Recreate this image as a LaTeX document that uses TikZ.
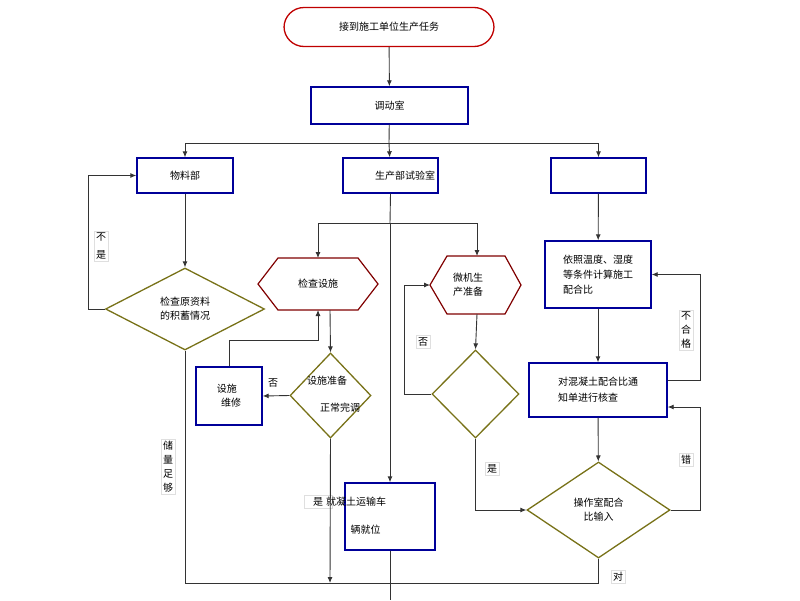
\documentclass[tikz,border=0pt]{standalone}
\usepackage{fontspec}
\setmainfont{Noto Sans CJK SC}
\usetikzlibrary{shapes.geometric,arrows.meta}
\begin{document}
\begin{tikzpicture}[x=1pt,y=-1pt,
 box/.style={draw=blue!60!black,line width=1.4pt,fill=white,font=\fontsize{10}{14}\selectfont,align=left,inner sep=3pt},
 dia/.style={diamond,draw=olive!80!black,line width=1.3pt,aspect=1,inner sep=0pt,font=\fontsize{10}{14}\selectfont,align=center},
 hexl/.style={draw=red!50!black,line width=1.2pt},
 txt/.style={font=\fontsize{10}{14}\selectfont,align=left},
 lbl/.style={draw=gray!25,fill=white,font=\fontsize{10}{14}\selectfont,align=center,inner sep=2pt},
 ar/.style={-{Latex[length=6pt,width=5pt]},line width=0.9pt,black!80},
 ln/.style={line width=0.9pt,black!80}]
\useasboundingbox (0,0) rectangle (800,600);
% nodes
\node[draw=red!75!black,line width=1.3pt,rounded corners=20pt,minimum width=210pt,minimum height=39pt,font=\fontsize{10}{14}\selectfont] (start) at (389,27) {接到施工单位生产任务};
\node[box,minimum width=157pt,minimum height=37pt,align=center] (ddd) at (389.5,105.5) {调动室};
\node[box,minimum width=96pt,minimum height=35pt,align=center] (wl) at (185,175.5) {物料部};
\node[box,minimum width=95pt,minimum height=35pt,text width=89pt,align=right] (sc) at (390.5,175.5) {生产部试验室};
\node[box,minimum width=95pt,minimum height=35pt] (rb) at (598.5,175.5) {};
\node[dia,minimum width=159pt,minimum height=82pt] (jc) at (185,309) {检查原资料\\的积蓄情况};
\draw[hexl] (258,284) -- (278,258) -- (358,258) -- (378,284) -- (358,310) -- (278,310) -- cycle;
\node[txt] (hx1) at (318,284) {检查设施};
\coordinate (hx1b) at (318,310);
\coordinate (hx1bb) at (330,310);
\coordinate (hx1t) at (318,258);
\draw[hexl] (430,285) -- (447,256) -- (505,256) -- (521,285) -- (505,314) -- (447,314) -- cycle;
\node[txt] (hx2) at (468,285) {微机生\\产准备};
\coordinate (hx2t) at (477,256);
\coordinate (hx2b) at (477,314);
\coordinate (hx2l) at (430,285);
\node[dia,minimum width=81pt,minimum height=85pt] (d2) at (330.5,395.5) {};
\node[txt] (d2a) at (327,381) {设施准备};
\node[txt] (d2b) at (340,408) {正常完调};
\node[box,minimum width=66pt,minimum height=58pt] (wx) at (229,396) {设施\\\ \ 维修};
\node[dia,minimum width=87pt,minimum height=88pt] (d3) at (475.5,394) {};
\node[box,minimum width=106pt,minimum height=67pt,font=\fontsize{10}{15}\selectfont] (yz) at (598,274.5) {依照温度、湿度\\等条件计算施工\\配合比};
\node[box,minimum width=138pt,minimum height=54pt,font=\fontsize{10}{16}\selectfont] (dh) at (598,390) {对混凝土配合比通\\知单进行核查};
\node[dia,minimum width=143pt,minimum height=96pt] (cz) at (598.5,510) {操作室配合\\比输入};
\node[box,minimum width=90pt,minimum height=67pt] (ys) at (390,516.5) {};
% connectors
\coordinate (bus1) at (389,143);
\draw[ar] (start) -- (ddd);
\draw[ln] (ddd) -- (bus1);
\draw[ar] (bus1) -| (wl);
\draw[ar] (bus1) -| (rb);
\draw[ar] (bus1) -- (sc);
\draw[ar] (wl) -- (jc);
\draw[ar] (jc.west) -- ++(-16,0) |- (wl.west);
\coordinate (bus2) at (390,223);
\draw[ln] (sc.south) -- (bus2);
\draw[ar] (bus2) -| (hx1t);
\draw[ar] (bus2) -| (hx2t);
\draw[ar] (bus2) -- (ys.north);
\draw[ar] (hx1bb) -- (d2.north);
\draw[ar] (wx.north) |- (318,340) -- (hx1b);
\draw[ar] (d2.west) -- (wx.east);
\coordinate (bot) at (390,583);
\draw[ln] (jc.south) |- (bot);
\draw[ln] (ys.south) -- (390,600);
\draw[ar] (hx2b) -- (d3.north);
\draw[ar] (d3.west) -- ++(-27,0) |- (hx2l);
\draw[ar] (d3.south) |- (cz.west);
\draw[ar] (rb) -- (yz);
\draw[ar] (yz) -- (dh);
\draw[ar] (dh.east |- 0,380) -- (700,380) |- (yz.east);
\draw[ar] (dh) -- (cz);
\draw[ar] (cz.east) -- (700,510) |- (dh.east |- 0,407);
\draw[ln] (cz.south) |- (bot);
% labels
\node[lbl] at (101,246) {不\\[4pt]是};
\node[lbl] at (168,467) {储\\量\\足\\够};
\node[txt] at (273,383) {否};
\node[lbl,minimum width=28pt] at (318,502) {是};
\node[txt,anchor=west,inner sep=0pt] at (326,502) {就凝土运输车};
\node[txt,anchor=west] at (347,530) {辆就位};
\draw[ar] (d2.south) -- (330,583);
\node[lbl] at (423,342) {否};
\node[lbl] at (492,469) {是};
\node[lbl] at (686,330) {不\\合\\格};
\node[lbl] at (686,460) {错};
\node[lbl] at (618,577) {对};
\end{tikzpicture}
\end{document}
